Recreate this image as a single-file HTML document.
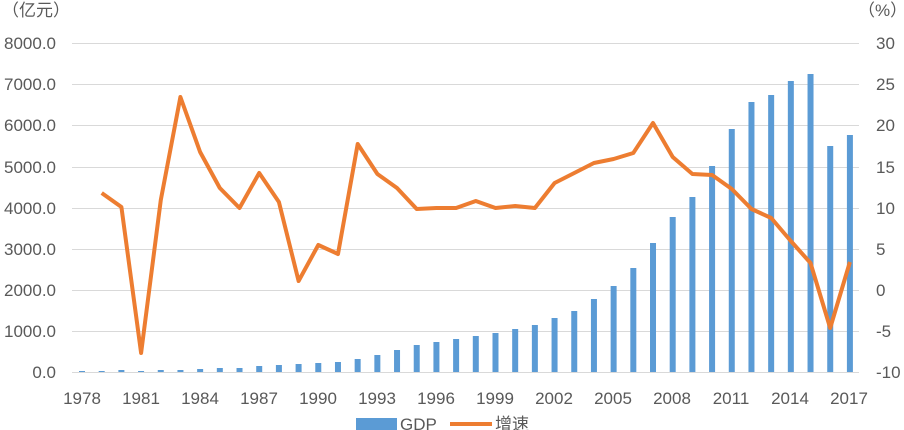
<!DOCTYPE html>
<html><head><meta charset="utf-8"><style>
body{margin:0;background:#fff;}
svg{display:block;font-family:"Liberation Sans","Noto Sans CJK SC",sans-serif;}
text{fill:#595959;font-size:17px;}
</style></head><body>
<svg id="s" width="904" height="430" viewBox="0 0 904 430">
<g stroke="#d9d9d9" stroke-width="1">
<line x1="72" x2="859" y1="43.5" y2="43.5"/><line x1="72" x2="859" y1="84.5" y2="84.5"/>
<line x1="72" x2="859" y1="125.5" y2="125.5"/><line x1="72" x2="859" y1="167.5" y2="167.5"/>
<line x1="72" x2="859" y1="208.5" y2="208.5"/><line x1="72" x2="859" y1="249.5" y2="249.5"/>
<line x1="72" x2="859" y1="290.5" y2="290.5"/><line x1="72" x2="859" y1="331.5" y2="331.5"/>
<line x1="72" x2="859" y1="372.5" y2="372.5"/>
</g>
<g id="bars" fill="#5b9bd5"></g>
<polyline id="ln" fill="none" stroke="#ed7d31" stroke-width="4" stroke-linejoin="round"/>
<text x="2" y="16" font-size="18">（亿元）</text>
<text x="858" y="16" font-size="18">（%）</text>
<g text-anchor="end">
<text x="56" y="49">8000.0</text><text x="56" y="90">7000.0</text><text x="56" y="131">6000.0</text>
<text x="56" y="173">5000.0</text><text x="56" y="214">4000.0</text><text x="56" y="255">3000.0</text>
<text x="56" y="296">2000.0</text><text x="56" y="337">1000.0</text><text x="56" y="378">0.0</text>
</g>
<g text-anchor="start">
<text x="876" y="49">30</text><text x="876" y="90">25</text><text x="876" y="131">20</text>
<text x="876" y="173">15</text><text x="876" y="214">10</text><text x="876" y="255">5</text>
<text x="876" y="296">0</text><text x="876" y="337">-5</text><text x="876" y="378">-10</text>
</g>
<g text-anchor="middle">
<text x="82" y="404">1978</text><text x="141" y="404">1981</text><text x="200" y="404">1984</text>
<text x="259" y="404">1987</text><text x="318" y="404">1990</text><text x="377" y="404">1993</text>
<text x="436" y="404">1996</text><text x="495" y="404">1999</text><text x="554" y="404">2002</text>
<text x="613" y="404">2005</text><text x="672" y="404">2008</text><text x="731" y="404">2011</text>
<text x="790" y="404">2014</text><text x="849" y="404">2017</text>
</g>
<rect x="356" y="418" width="41" height="12" fill="#5b9bd5"/>
<text x="400" y="430">GDP</text>
<line x1="450" x2="492" y1="424" y2="424" stroke="#ed7d31" stroke-width="4"/>
<text x="495" y="430">增速</text>
</svg>
<script>
var tops=[371,371,370,371,370,370,369,368,368,366,365,364,363,362,359,355,350,345,342,339,336,333,329,325,318,311,299,286,268,243,217,197,166,129,102,95,81,74,146,135];
var ly=[null,193,207,353,200,97,152,188,208,173,202,281,245,254,144,174,188,209,208,208,201,208,206,208,183,173,163,159,153,123,157,174,175,189,209,218,241,263,328,262];
var g=document.getElementById('bars'),pts=[];
for(var i=0;i<40;i++){var x=82+i*19.69;
var r=document.createElementNS('http://www.w3.org/2000/svg','rect');
r.setAttribute('x',x-3);r.setAttribute('y',tops[i]);r.setAttribute('width',6);r.setAttribute('height',372-tops[i]);g.appendChild(r);
if(ly[i]!==null)pts.push(x.toFixed(1)+','+ly[i]);}
document.getElementById('ln').setAttribute('points',pts.join(' '));
</script>
</body></html>
